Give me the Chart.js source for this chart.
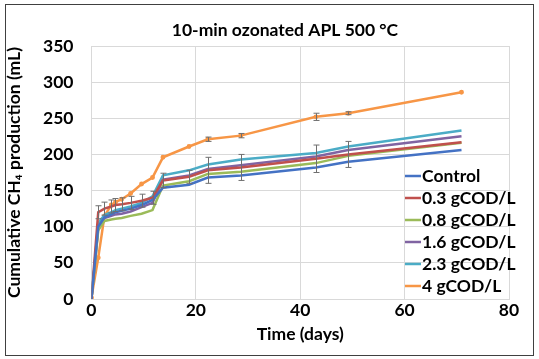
<!DOCTYPE html>
<html>
<head>
<meta charset="utf-8">
<script src="https://cdn.jsdelivr.net/npm/chart.js@4/dist/chart.umd.min.js"></script>
<style>
  body { margin: 0; background: #fff; }
  #wrap { width: 539px; height: 359px; }
</style>
</head>
<body>
<div id="wrap"><canvas id="ch4-chart"></canvas></div>
<script>
// days sampled
const days = [0, 1.3, 2.5, 3.8, 4.6, 5.8, 7.5, 9.6, 11.7, 13.7, 18.7, 22.3, 28.6, 43, 49.2, 70.9];

// cumulative CH4 (mL)
const control = [0, 100, 113, 117, 120, 122, 125, 130, 137, 154, 158, 168, 171, 182, 190, 206];
const cod03   = [0, 120, 125, 128, 130, 131, 133, 136, 140, 164, 169, 178, 182, 194, 200, 217];
const cod08   = [0, 95, 108, 110, 111, 112, 115, 118, 123, 157, 163, 173, 176, 188, 198, 216];
const cod16   = [0, 98, 112, 115, 117, 118, 121, 127, 133, 165, 171, 180, 185, 197, 206, 225];
const cod23   = [0, 105, 116, 120, 123, 125, 128, 133, 142, 171, 178, 186, 193, 202, 211, 233];
const cod4    = [2, 57, 115, 130, 134, 138, 146, 159, 168, 196, 211, 221, 226, 252, 257, 286];

// error bars (+/- mL)
const cod03Err = [0, 9, 9, 9, 9, 9, 9, 9, 9, 10, 9, 18, 18, 19, 18, 0];
const cod4Err  = [0, 0, 0, 0, 0, 0, 0, 0, 0, 0, 0, 3, 3, 5, 2, 0];

const legendNames = ["Control", "0.3 gCOD/L", "0.8 gCOD/L", "1.6 gCOD/L", "2.3 gCOD/L", "4 gCOD/L"];
const colors = ['#4472C4', '#C0504D', '#9BBB59', '#8064A2', '#4BACC6', '#F79646'];
const series = [control, cod03, cod08, cod16, cod23, cod4];
const errors = [null, cod03Err, null, null, null, cod4Err];
const chartTitle = '10-min ozonated APL 500 \u00B0C';

const fontFam = "Lato, 'Open Sans', 'DejaVu Sans', sans-serif";
const bigFont = { family: fontFam, size: 17.5, weight: 'bold' };

function toXY(vals) {
  return vals.map((v, i) => ({ x: days[i], y: v }));
}

const datasets = series.map((vals, i) => ({
  label: legendNames[i],
  data: toXY(vals),
  borderColor: colors[i],
  backgroundColor: colors[i],
  borderWidth: 2.5,
  pointRadius: i === 5 ? 1.2 : 0,
  tension: 0,
  errors: errors[i]
}));

// draws error bars, title, frame and the in-plot legend
const extras = {
  id: 'extras',
  afterDatasetsDraw(chart) {
    const ctx = chart.ctx;
    const xs = chart.scales.x, ys = chart.scales.y;
    ctx.save();
    ctx.strokeStyle = '#6f6f6f';
    ctx.lineWidth = 1;
    chart.data.datasets.forEach(ds => {
      if (!ds.errors) return;
      ds.data.forEach((p, j) => {
        const e = ds.errors[j];
        if (!e) return;
        const px = Math.round(xs.getPixelForValue(p.x)) + 0.5;
        const top = ys.getPixelForValue(p.y + e);
        const bot = ys.getPixelForValue(p.y - e);
        ctx.beginPath();
        ctx.moveTo(px, top); ctx.lineTo(px, bot);
        ctx.moveTo(px - 3, top); ctx.lineTo(px + 3, top);
        ctx.moveTo(px - 3, bot); ctx.lineTo(px + 3, bot);
        ctx.stroke();
      });
    });
    ctx.restore();
  },
  afterDraw(chart) {
    const ctx = chart.ctx;
    ctx.save();
    ctx.font = "bold 17.5px " + fontFam;
    ctx.textBaseline = 'middle';
    ctx.fillStyle = '#000';
    // title
    ctx.textAlign = 'center';
    ctx.fillText(chartTitle, 285, 30);
    // legend
    ctx.textAlign = 'left';
    legendNames.forEach((name, i) => {
      const y = 176 + i * 22;
      ctx.strokeStyle = colors[i];
      ctx.lineWidth = 2.5;
      ctx.beginPath();
      ctx.moveTo(405, y); ctx.lineTo(421, y);
      ctx.stroke();
      ctx.fillText(name, 422, y);
    });
    // outer frame
    ctx.strokeStyle = '#404040';
    ctx.lineWidth = 1;
    ctx.strokeRect(5.5, 4.5, 528, 351);
    ctx.restore();
  }
};

new Chart(document.getElementById('ch4-chart'), {
  type: 'line',
  data: { datasets: datasets },
  options: {
    responsive: true,
    maintainAspectRatio: false,
    animation: false,
    layout: { padding: { top: 46, left: 4, right: 30, bottom: 14 } },
    scales: {
      x: {
        type: 'linear',
        min: 0,
        max: 80,
        ticks: { stepSize: 20, color: '#000', font: bigFont, padding: 1 },
        grid: { color: '#D9D9D9', drawTicks: false },
        border: { color: '#D9D9D9' },
        title: { display: true, text: 'Time (days)', color: '#000', font: bigFont, padding: { top: 2, bottom: 0 } }
      },
      y: {
        min: 0,
        max: 350,
        ticks: { stepSize: 50, color: '#000', font: bigFont, padding: 18 },
        grid: { color: '#D9D9D9', drawTicks: false },
        border: { color: '#D9D9D9' },
        title: { display: true, text: 'Cumulative CH\u2084 production (mL)', color: '#000', font: bigFont, padding: 0 }
      }
    },
    plugins: {
      legend: { display: false },
      tooltip: { enabled: false },
      title: { display: false }
    }
  },
  plugins: [extras]
});
</script>
</body>
</html>
